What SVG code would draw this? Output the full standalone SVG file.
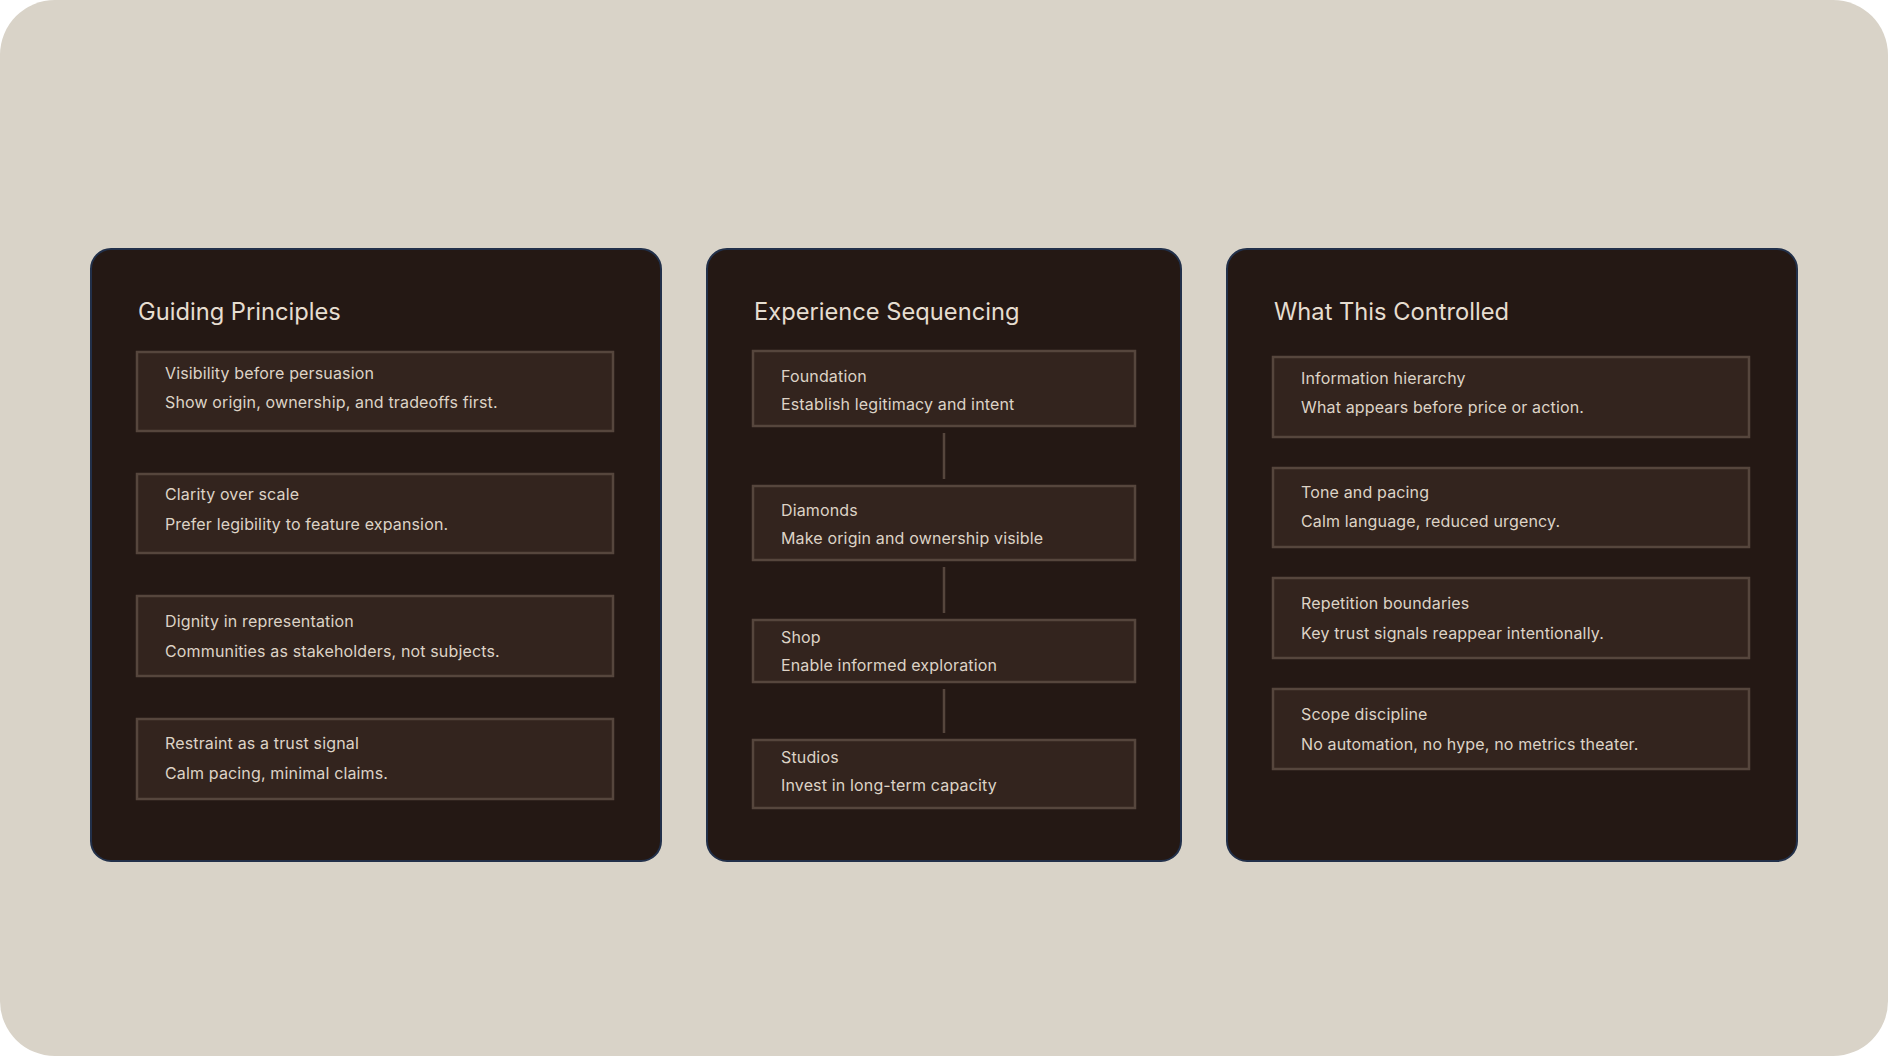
<svg xmlns="http://www.w3.org/2000/svg" width="1888" height="1056" viewBox="0 0 1888 1056">
<style>
.bg{fill:#d9d3c8}
.panel{fill:#241814;stroke:#22304a;stroke-width:2}
.card{fill:#33241e;stroke:#56463d;stroke-width:2.5}
.title{font-family:Inter,"Liberation Sans",sans-serif;font-size:23.7px;fill:#e6ddd0}
.t1{font-family:Inter,"Liberation Sans",sans-serif;font-size:16px;letter-spacing:0.15px;fill:#ddd3c6}
.t2{font-family:Inter,"Liberation Sans",sans-serif;font-size:16px;letter-spacing:0.15px;fill:#ddd3c6}
.conn{stroke:#56463d;stroke-width:2.5;fill:none}
</style>
<rect x="0" y="0" width="1888" height="1056" fill="#ffffff"/>
<rect class="bg" x="0" y="0" width="1888" height="1056" rx="55" ry="55"/>

<g id="panel-principles">
<rect class="panel" x="91" y="249" width="570" height="612" rx="20" ry="20"/>
<text class="title" x="138" y="320">Guiding Principles</text>
</g>
<g id="p1-card1">
<rect class="card" x="137" y="352" width="476" height="79"/>
<text class="t1" x="165" y="379">Visibility before persuasion</text>
<text class="t2" x="165" y="408">Show origin, ownership, and tradeoffs first.</text>
</g>
<g id="p1-card2">
<rect class="card" x="137" y="474" width="476" height="79"/>
<text class="t1" x="165" y="500">Clarity over scale</text>
<text class="t2" x="165" y="530">Prefer legibility to feature expansion.</text>
</g>
<g id="p1-card3">
<rect class="card" x="137" y="596" width="476" height="80"/>
<text class="t1" x="165" y="627">Dignity in representation</text>
<text class="t2" x="165" y="657">Communities as stakeholders, not subjects.</text>
</g>
<g id="p1-card4">
<rect class="card" x="137" y="719" width="476" height="80"/>
<text class="t1" x="165" y="749">Restraint as a trust signal</text>
<text class="t2" x="165" y="779">Calm pacing, minimal claims.</text>
</g>

<g id="panel-sequencing">
<rect class="panel" x="707" y="249" width="474" height="612" rx="20" ry="20"/>
<text class="title" x="754" y="320">Experience Sequencing</text>
</g>
<g id="seq-foundation">
<rect class="card" x="753" y="351" width="382" height="75"/>
<text class="t1" x="781" y="382">Foundation</text>
<text class="t2" x="781" y="410">Establish legitimacy and intent</text>
</g>
<g id="seq-diamonds">
<rect class="card" x="753" y="486" width="382" height="74"/>
<text class="t1" x="781" y="516">Diamonds</text>
<text class="t2" x="781" y="544">Make origin and ownership visible</text>
</g>
<g id="seq-shop">
<rect class="card" x="753" y="620" width="382" height="62"/>
<text class="t1" x="781" y="643">Shop</text>
<text class="t2" x="781" y="671">Enable informed exploration</text>
</g>
<g id="seq-studios">
<rect class="card" x="753" y="740" width="382" height="68"/>
<text class="t1" x="781" y="763">Studios</text>
<text class="t2" x="781" y="791">Invest in long-term capacity</text>
</g>
<g id="connectors">
<line class="conn" x1="944" y1="433" x2="944" y2="479"/>
<line class="conn" x1="944" y1="567" x2="944" y2="613"/>
<line class="conn" x1="944" y1="689" x2="944" y2="733"/>
</g>

<g id="panel-controlled">
<rect class="panel" x="1227" y="249" width="570" height="612" rx="20" ry="20"/>
<text class="title" x="1274" y="320">What This Controlled</text>
</g>
<g id="p3-card1">
<rect class="card" x="1273" y="357" width="476" height="80"/>
<text class="t1" x="1301" y="384">Information hierarchy</text>
<text class="t2" x="1301" y="413">What appears before price or action.</text>
</g>
<g id="p3-card2">
<rect class="card" x="1273" y="468" width="476" height="79"/>
<text class="t1" x="1301" y="498">Tone and pacing</text>
<text class="t2" x="1301" y="527">Calm language, reduced urgency.</text>
</g>
<g id="p3-card3">
<rect class="card" x="1273" y="578" width="476" height="80"/>
<text class="t1" x="1301" y="609">Repetition boundaries</text>
<text class="t2" x="1301" y="639">Key trust signals reappear intentionally.</text>
</g>
<g id="p3-card4">
<rect class="card" x="1273" y="689" width="476" height="80"/>
<text class="t1" x="1301" y="720">Scope discipline</text>
<text class="t2" x="1301" y="750">No automation, no hype, no metrics theater.</text>
</g>
</svg>
